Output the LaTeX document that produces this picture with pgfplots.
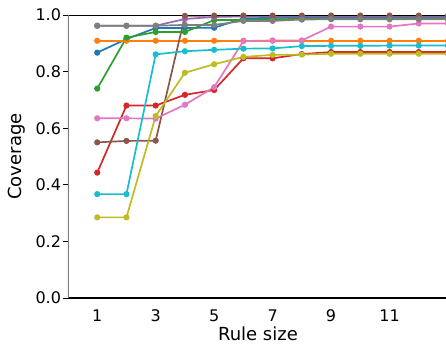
\documentclass[border=0pt]{standalone}
\usepackage{fontspec}
\setmainfont{DejaVu Sans}
\usepackage{pgfplots}
\pgfplotsset{compat=1.18}
\definecolor{tabblue}{HTML}{1F77B4}
\definecolor{taborange}{HTML}{FF7F0E}
\definecolor{tabgreen}{HTML}{2CA02C}
\definecolor{tabred}{HTML}{D62728}
\definecolor{tabpurple}{HTML}{9467BD}
\definecolor{tabbrown}{HTML}{8C564B}
\definecolor{tabpink}{HTML}{E377C2}
\definecolor{tabgray}{HTML}{7F7F7F}
\definecolor{tabolive}{HTML}{BCBD22}
\definecolor{tabcyan}{HTML}{17BECF}
\begin{document}
\begin{tikzpicture}
\begin{axis}[
  at={(0,0)}, anchor=south west,
  scale only axis, width=380pt, height=283pt,
  xmin=0, xmax=13, ymin=0, ymax=1,
  axis line style={draw=none},
  clip=true,
  xtick={1,3,5,7,9,11},
  ytick={0,0.2,0.4,0.6,0.8,1.0},
  yticklabels={0.0,0.2,0.4,0.6,0.8,1.0},
  xtick style={draw=none},
  ytick style={black, line width=0.9pt},
  tick align=outside,
  major tick length=5pt,
  xtick pos=bottom, ytick pos=left,
  /pgf/number format/assume math mode=true,
  ticklabel style={font=\fontsize{16}{19}\selectfont},
  xticklabel style={yshift=-3.4pt},
  yticklabel style={xshift=1.5pt},
  xlabel={Rule size}, ylabel={Coverage},
  label style={font=\fontsize{18}{21}\selectfont},
  xlabel style={at={(axis description cs:0.5,0)}, anchor=center, yshift=-36pt},
  ylabel style={at={(axis description cs:-0.1342,0.5)}, anchor=center},
  every axis plot/.append style={line width=1.7pt, mark=*, mark size=2.2pt, mark options={solid}},
]
% blue
\addplot[tabblue, mark options={fill=tabblue}] coordinates {(1,0.867)(2,0.915)(3,0.954)(4,0.954)(5,0.955)(6,0.988)(7,0.99)(8,0.99)(9,0.99)(10,0.99)(11,0.99)(12,0.99)(13,0.99)};
% orange
\addplot[taborange, mark options={fill=taborange}] coordinates {(1,0.909)(2,0.909)(3,0.909)(4,0.909)(5,0.909)(6,0.909)(7,0.909)(8,0.909)(9,0.909)(10,0.909)(11,0.909)(12,0.909)(13,0.909)};
% green
\addplot[tabgreen, mark options={fill=tabgreen}] coordinates {(1,0.74)(2,0.92)(3,0.94)(4,0.94)(5,0.982)(6,0.982)(7,0.985)(8,0.986)(9,0.987)(10,0.987)(11,0.987)(12,0.988)(13,0.988)};
% red
\addplot[tabred, mark options={fill=tabred}] coordinates {(1,0.443)(2,0.68)(3,0.68)(4,0.718)(5,0.735)(6,0.847)(7,0.847)(8,0.862)(9,0.869)(10,0.869)(11,0.869)(12,0.869)(13,0.869)};
% purple
\addplot[tabpurple, mark options={fill=tabpurple}] coordinates {(1,0.962)(2,0.962)(3,0.962)(4,0.986)(5,0.993)(6,0.995)(7,0.995)(8,0.995)(9,0.995)(10,0.995)(11,0.995)(12,0.995)(13,0.995)};
% brown
\addplot[tabbrown, mark options={fill=tabbrown}] coordinates {(1,0.55)(2,0.555)(3,0.556)(4,0.997)(5,0.998)(6,0.998)(7,0.998)(8,0.998)(9,0.998)(10,0.998)(11,0.998)(12,0.998)(13,0.998)};
% pink
\addplot[tabpink, mark options={fill=tabpink}] coordinates {(1,0.635)(2,0.635)(3,0.634)(4,0.683)(5,0.745)(6,0.908)(7,0.91)(8,0.91)(9,0.959)(10,0.959)(11,0.959)(12,0.97)(13,0.97)};
% gray
\addplot[tabgray, mark options={fill=tabgray}] coordinates {(1,0.962)(2,0.962)(3,0.962)(4,0.965)(5,0.965)(6,0.979)(7,0.979)(8,0.984)(9,0.985)(10,0.985)(11,0.985)(12,0.985)(13,0.985)};
% olive
\addplot[tabolive, mark options={fill=tabolive}] coordinates {(1,0.285)(2,0.285)(3,0.643)(4,0.796)(5,0.826)(6,0.852)(7,0.859)(8,0.860)(9,0.863)(10,0.863)(11,0.863)(12,0.863)(13,0.863)};
% cyan
\addplot[tabcyan, mark options={fill=tabcyan}] coordinates {(1,0.367)(2,0.367)(3,0.861)(4,0.872)(5,0.877)(6,0.881)(7,0.882)(8,0.890)(9,0.891)(10,0.891)(11,0.892)(12,0.892)(13,0.892)};
\draw[black, line width=1.1pt] (rel axis cs:0,0) -- (rel axis cs:1,0);
\draw[black, line width=1.1pt] (rel axis cs:0,1) -- (rel axis cs:1,1);
\draw[tabgray, line width=1.6pt] (rel axis cs:0,0) -- (rel axis cs:0,1);
\end{axis}
\pgfresetboundingbox
\useasboundingbox (-68pt,-51pt) rectangle (378pt,298pt);
\end{tikzpicture}
\end{document}
